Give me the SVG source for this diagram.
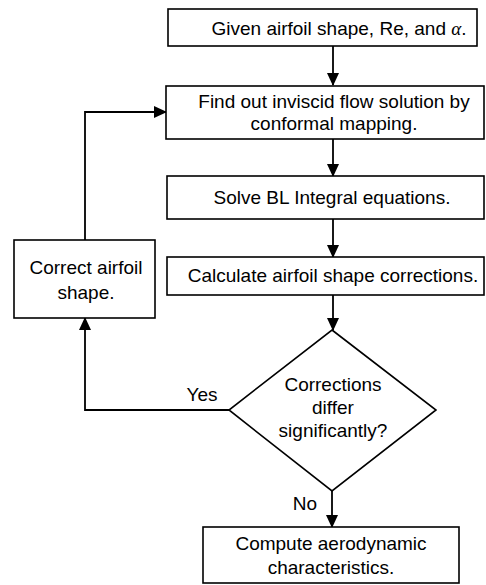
<svg xmlns="http://www.w3.org/2000/svg" width="486" height="585" viewBox="0 0 486 585">
<style>
.box{fill:#fff;stroke:#000;stroke-width:1.6}
.t{font-family:"Liberation Sans",Arial,sans-serif;font-size:19px;fill:#000;text-anchor:middle}
.c{fill:none;stroke:#000;stroke-width:1.8}
</style>
<defs>
<marker id="ah" markerWidth="13" markerHeight="12" refX="12" refY="6" orient="auto" markerUnits="userSpaceOnUse">
<path d="M0,0 L13,6 L0,12 Z" fill="#000"/>
</marker>
</defs>
<rect width="486" height="585" fill="#fff"/>
<g id="connectors">
<path class="c" d="M333,46 V85" marker-end="url(#ah)"/>
<path class="c" d="M333,139 V176" marker-end="url(#ah)"/>
<path class="c" d="M333,219 V257" marker-end="url(#ah)"/>
<path class="c" d="M333,295 V330" marker-end="url(#ah)"/>
<path class="c" d="M332,491 V527" marker-end="url(#ah)"/>
<path class="c" d="M229,410 H85 V318" marker-end="url(#ah)"/>
<path class="c" d="M85,240 V112 H166" marker-end="url(#ah)"/>
<text class="t" x="202" y="401">Yes</text>
<text class="t" x="305" y="510">No</text>
</g>
<g id="n1">
<rect class="box" x="168" y="9" width="309" height="37"/>
<text class="t" x="339" y="35">Given airfoil shape, Re, and <tspan font-family="Liberation Serif" font-style="italic">α</tspan>.</text>
</g>
<g id="n2">
<rect class="box" x="166" y="86" width="318" height="53"/>
<text class="t" x="334" y="108">Find out inviscid flow solution by</text>
<text class="t" x="334" y="130">conformal mapping.</text>
</g>
<g id="n3">
<rect class="box" x="167" y="176" width="317" height="43"/>
<text class="t" x="332" y="204">Solve BL Integral equations.</text>
</g>
<g id="n4">
<rect class="box" x="167" y="257" width="317" height="38"/>
<text class="t" x="333" y="282">Calculate airfoil shape corrections.</text>
</g>
<g id="n5">
<rect class="box" x="14" y="240" width="141" height="78"/>
<text class="t" x="86" y="274">Correct airfoil</text>
<text class="t" x="86" y="299">shape.</text>
</g>
<g id="n6">
<path class="box" d="M332,330 L436,410 L332,491 L229,410 Z"/>
<text class="t" x="333" y="391">Corrections</text>
<text class="t" x="333" y="414">differ</text>
<text class="t" x="333" y="437">significantly?</text>
</g>
<g id="n7">
<rect class="box" x="203" y="527" width="256" height="56"/>
<text class="t" x="331" y="550">Compute aerodynamic</text>
<text class="t" x="331" y="574">characteristics.</text>
</g>
</svg>
